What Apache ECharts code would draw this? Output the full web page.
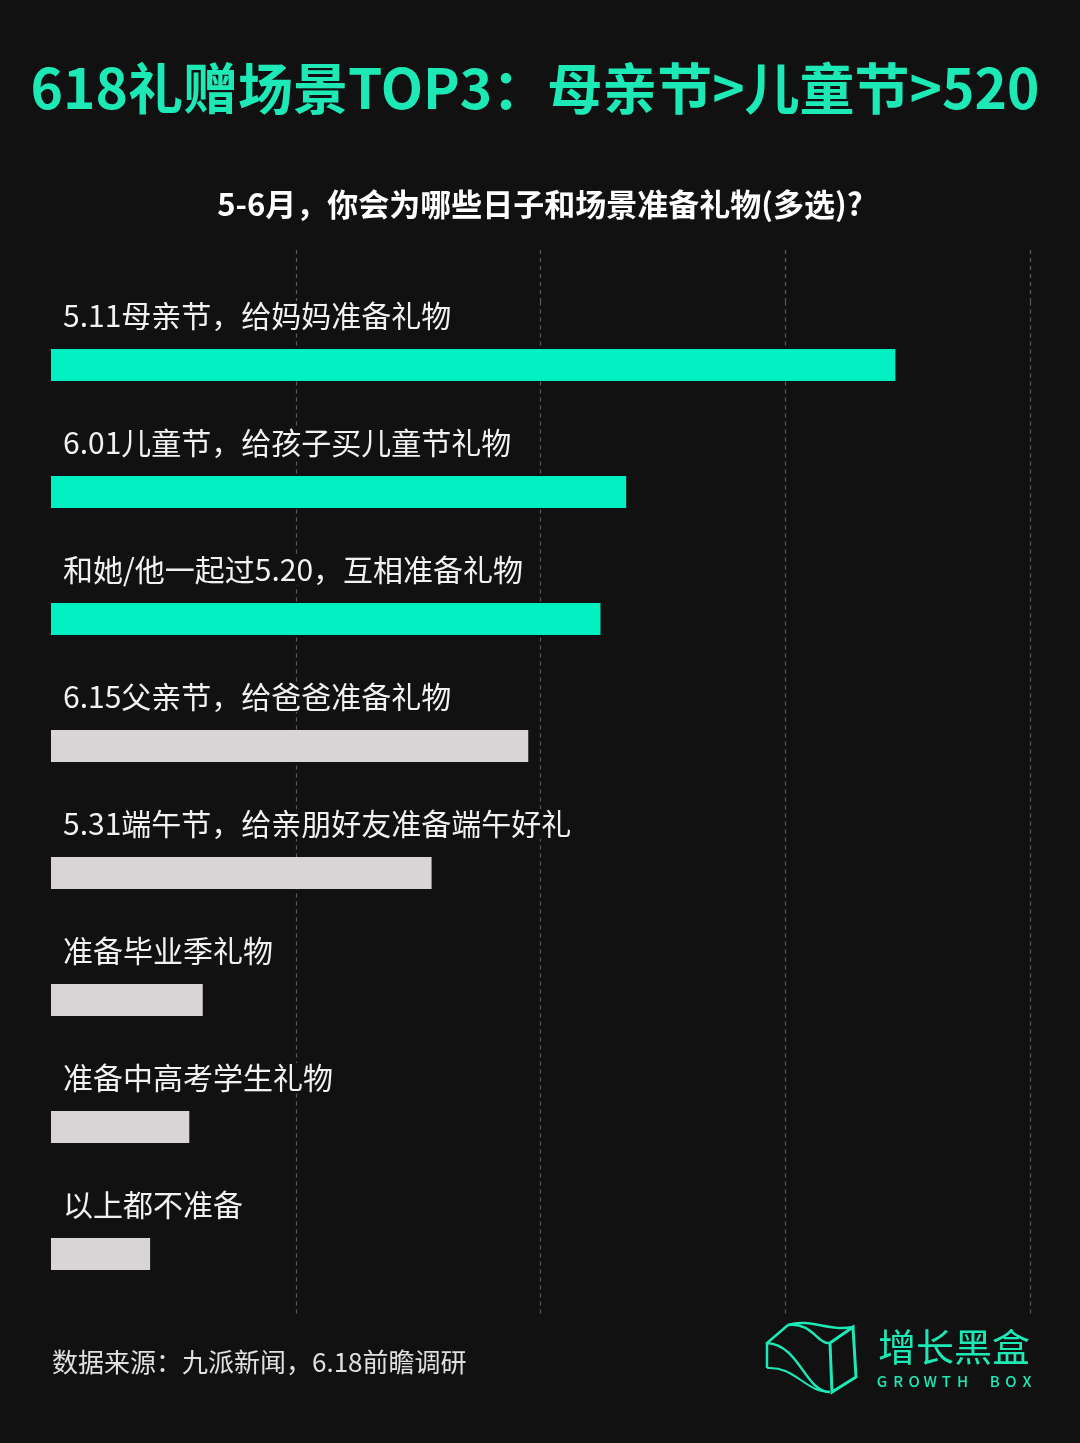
<!DOCTYPE html>
<html><head><meta charset="utf-8">
<script src="https://cdn.jsdelivr.net/npm/echarts@6/dist/echarts.min.js"></script>
<style>html,body{margin:0;padding:0;background:#111111;} #c{width:1080px;height:1443px;}</style>
</head><body><div id="c"></div>
<script>
const titleText = '618礼赠场景TOP3：母亲节>儿童节>520';
const subtitleText = '5-6月，你会为哪些日子和场景准备礼物(多选)?';
const sourceText = '数据来源：九派新闻，6.18前瞻调研';
const categories = [
  '5.11母亲节，给妈妈准备礼物',
  '6.01儿童节，给孩子买儿童节礼物',
  '和她/他一起过5.20，互相准备礼物',
  '6.15父亲节，给爸爸准备礼物',
  '5.31端午节，给亲朋好友准备端午好礼',
  '准备毕业季礼物',
  '准备中高考学生礼物',
  '以上都不准备'
];
const values = [69.0, 47.0, 44.9, 39.0, 31.1, 12.4, 11.3, 8.1];
const highlightCount = 3;
const axisMin = 0, axisMax = 80, axisInterval = 20;
const logoName = '增长黑盒';
const logoSub = 'GROWTH BOX';

const GREEN = '#1de9b6';
const BAR_GREEN = '#00f0c2';
const BAR_GREY = '#d9d5d6';
const FONT = '"Noto Sans CJK SC", "Noto Sans", sans-serif';

const chart = echarts.init(document.getElementById('c'), null, {renderer: 'canvas'});

const splitLineStyle = {show: true, showMinLine: false, showMaxLine: true,
  lineStyle: {color: '#5a5a5a', type: [4, 4], width: 1.2}};

const xAxisBase = (gi) => ({
  type: 'value', gridIndex: gi, min: axisMin, max: axisMax, interval: axisInterval,
  axisLine: {show: false}, axisTick: {show: false}, axisLabel: {show: false},
  splitLine: splitLineStyle
});

const subChars = logoSub.split('');
const subGraphics = subChars.map((ch, i) => ({
  type: 'text', x: 882 + i * 16.1, y: 1381,
  style: {text: ch, fill: GREEN, font: '500 15px ' + FONT, textAlign: 'center', textVerticalAlign: 'middle'}
}));

const option = {
  backgroundColor: '#111111',
  animation: false,
  grid: [
    {left: 51, right: 50, top: 301.5, height: 1016, containLabel: false},
    {left: 51, right: 50, top: 250, height: 52, containLabel: false}
  ],
  xAxis: [xAxisBase(0), xAxisBase(1)],
  yAxis: [
    {type: 'category', gridIndex: 0, data: categories, inverse: true, show: false},
    {type: 'value', gridIndex: 1, min: 0, max: 1, show: false, splitLine: {show: false}}
  ],
  series: [{
    type: 'bar', xAxisIndex: 0, yAxisIndex: 0, barWidth: 32,
    data: values.map((v, i) => ({value: v, itemStyle: {color: i < highlightCount ? BAR_GREEN : BAR_GREY}})),
    label: {
      show: true, position: [12, -33], align: 'left', verticalAlign: 'middle',
      formatter: '{b}', color: '#f2f2f2', fontSize: 30, fontFamily: FONT, fontWeight: 'normal',
      backgroundColor: '#111111', padding: [0, 0]
    },
    z: 3
  }],
  graphic: [
    {type: 'text', x: 535, y: 88, style: {text: titleText, fill: GREEN, font: 'bold 55px ' + FONT, textAlign: 'center', textVerticalAlign: 'middle'}},
    {type: 'text', x: 540, y: 204, style: {text: subtitleText, fill: '#ffffff', font: 'bold 31px ' + FONT, textAlign: 'center', textVerticalAlign: 'middle'}},
    {type: 'text', x: 52, y: 1362, style: {text: sourceText, fill: '#e0e0e0', font: '26px ' + FONT, textAlign: 'left', textVerticalAlign: 'middle'}},
    {type: 'text', x: 954, y: 1347, style: {text: logoName, fill: GREEN, font: '38px ' + FONT, textAlign: 'center', textVerticalAlign: 'middle'}},
    {type: 'group', children: [
      {type: 'polyline', shape: {points: [[767,1368],[767,1343],[788,1325]]}, style: {stroke: GREEN, lineWidth: 2.5, fill: null}},
      {type: 'bezierCurve', shape: {x1: 788, y1: 1325, cpx1: 812, cpy1: 1322, cpx2: 818, cpy2: 1345, x2: 830, y2: 1343}, style: {stroke: GREEN, lineWidth: 2.5, fill: null}},
      {type: 'bezierCurve', shape: {x1: 767, y1: 1343, cpx1: 800, cpy1: 1345, cpx2: 805, cpy2: 1392, x2: 830, y2: 1392}, style: {stroke: GREEN, lineWidth: 2.5, fill: null}},
      {type: 'bezierCurve', shape: {x1: 767, y1: 1368, cpx1: 795, cpy1: 1366, cpx2: 805, cpy2: 1392, x2: 830, y2: 1392}, style: {stroke: GREEN, lineWidth: 2, fill: null}},
      {type: 'bezierCurve', shape: {x1: 788, y1: 1325, cpx1: 810, cpy1: 1318, cpx2: 830, cpy2: 1332, x2: 853, y2: 1327}, style: {stroke: GREEN, lineWidth: 2.5, fill: null}},
      {type: 'polyline', shape: {points: [[830,1343],[853,1327],[856,1377],[832,1392],[830,1343]]}, style: {stroke: GREEN, lineWidth: 3, fill: null}}
    ]}
  ].concat(subGraphics)
};
chart.setOption(option);
</script>
</body></html>
